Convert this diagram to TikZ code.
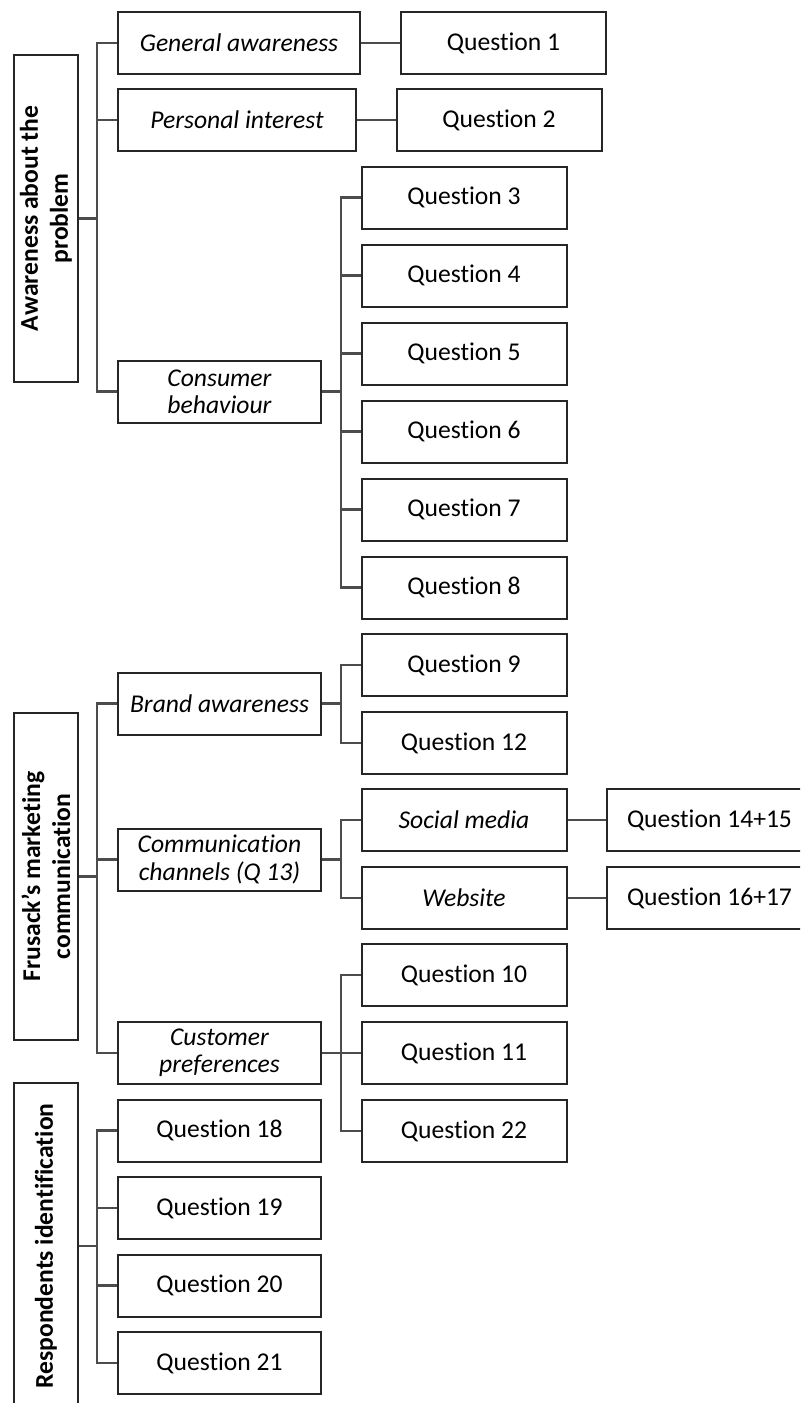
\documentclass[tikz,border=0pt]{standalone}
\usepackage{fontspec}
\setmainfont{Carlito}[Ligatures={TeX,NoCommon}]

\begin{document}
\begin{tikzpicture}[x=0.5pt,y=-0.5pt,
  box/.style={draw=black!85,line width=1pt,minimum height=31pt,inner sep=1pt,align=center,font=\fontsize{12.8}{13.6}\selectfont},
  qbox/.style={box,minimum width=102.5pt},
  topic/.style={box,minimum width=101.5pt,font=\fontsize{12.8}{13.6}\selectfont\itshape},
  theme/.style={box,rotate=90,minimum width=163.5pt,minimum height=32pt,font=\fontsize{12.8}{15}\selectfont\bfseries},
  link/.style={draw=black!70,line width=1.1pt}]
  \useasboundingbox (0,0) rectangle (800,1403);
  \clip (0,0) rectangle (800,1403);

  % themes
  \node[theme] (aware) at (46,218.5) {Awareness about the\\problem};
  \node[theme] (frus) at (46,876.5) {Frusack's marketing\\communication};
  \node[theme,minimum width=163pt] (resp) at (46,1246) {Respondents identification};

  % awareness about the problem
  \node[topic,minimum width=121pt] (gen) at (239,43) {General awareness};
  \node[topic,minimum width=119pt] (pers) at (237,120) {Personal interest};
  \node[topic] (cons) at (219.5,391.5) {Consumer\\behaviour};
  \node[qbox] (q1) at (503.5,43) {Question 1};
  \node[qbox] (q2) at (499,120) {Question 2};
  \node[qbox] (q3) at (464,197.5) {Question 3};
  \node[qbox] (q4) at (464,275.5) {Question 4};
  \node[qbox] (q5) at (464,353.5) {Question 5};
  \node[qbox] (q6) at (464,431.5) {Question 6};
  \node[qbox] (q7) at (464,509.5) {Question 7};
  \node[qbox] (q8) at (464,587.5) {Question 8};

  % marketing communication
  \node[topic] (brand) at (219.5,703.5) {Brand awareness};
  \node[topic] (comm) at (219.5,859.5) {Communication\\channels (Q 13)};
  \node[topic] (custp) at (219.5,1053) {Customer\\preferences};
  \node[qbox] (q9) at (464,665) {Question 9};
  \node[qbox] (q12) at (464,743) {Question 12};
  \node[topic,minimum width=102.5pt] (social) at (464,820) {Social media};
  \node[topic,minimum width=102.5pt] (web) at (464,898) {Website};
  \node[qbox] (q1415) at (709.5,820) {Question 14+15};
  \node[qbox] (q1617) at (709.5,898) {Question 16+17};
  \node[qbox] (q10) at (464,975) {Question 10};
  \node[qbox] (q11) at (464,1053) {Question 11};
  \node[qbox] (q22) at (464,1131) {Question 22};

  % respondents
  \node[qbox,minimum width=101.5pt] (q18) at (219.5,1130.5) {Question 18};
  \node[qbox,minimum width=101.5pt] (q19) at (219.5,1208) {Question 19};
  \node[qbox,minimum width=101.5pt] (q20) at (219.5,1285.5) {Question 20};
  \node[qbox,minimum width=101.5pt] (q21) at (219.5,1363) {Question 21};

  % junctions
  \coordinate (j1) at (97,218.5);
  \coordinate (j2) at (341,391.5);
  \coordinate (j3) at (97,876.5);
  \coordinate (j4) at (341,703.5);
  \coordinate (j5) at (341,859.5);
  \coordinate (j6) at (341,1053);
  \coordinate (j7) at (97,1246);

  % connectors
  \draw[link] (aware.south) -- (j1);
  \foreach \n in {gen,pers,cons} \draw[link] (j1) |- (\n.west);
  \draw[link] (gen) -- (q1);
  \draw[link] (pers) -- (q2);
  \draw[link] (cons.east) -- (j2);
  \foreach \n in {q3,q4,q5,q6,q7,q8} \draw[link] (j2) |- (\n.west);

  \draw[link] (frus.south) -- (j3);
  \foreach \n in {brand,comm,custp} \draw[link] (j3) |- (\n.west);
  \draw[link] (brand.east) -- (j4);
  \foreach \n in {q9,q12} \draw[link] (j4) |- (\n.west);
  \draw[link] (comm.east) -- (j5);
  \foreach \n in {social,web} \draw[link] (j5) |- (\n.west);
  \draw[link] (social) -- (q1415);
  \draw[link] (web) -- (q1617);
  \draw[link] (custp.east) -- (j6);
  \foreach \n in {q10,q11,q22} \draw[link] (j6) |- (\n.west);

  \draw[link] (resp.south) -- (j7);
  \foreach \n in {q18,q19,q20,q21} \draw[link] (j7) |- (\n.west);
\end{tikzpicture}
\end{document}
